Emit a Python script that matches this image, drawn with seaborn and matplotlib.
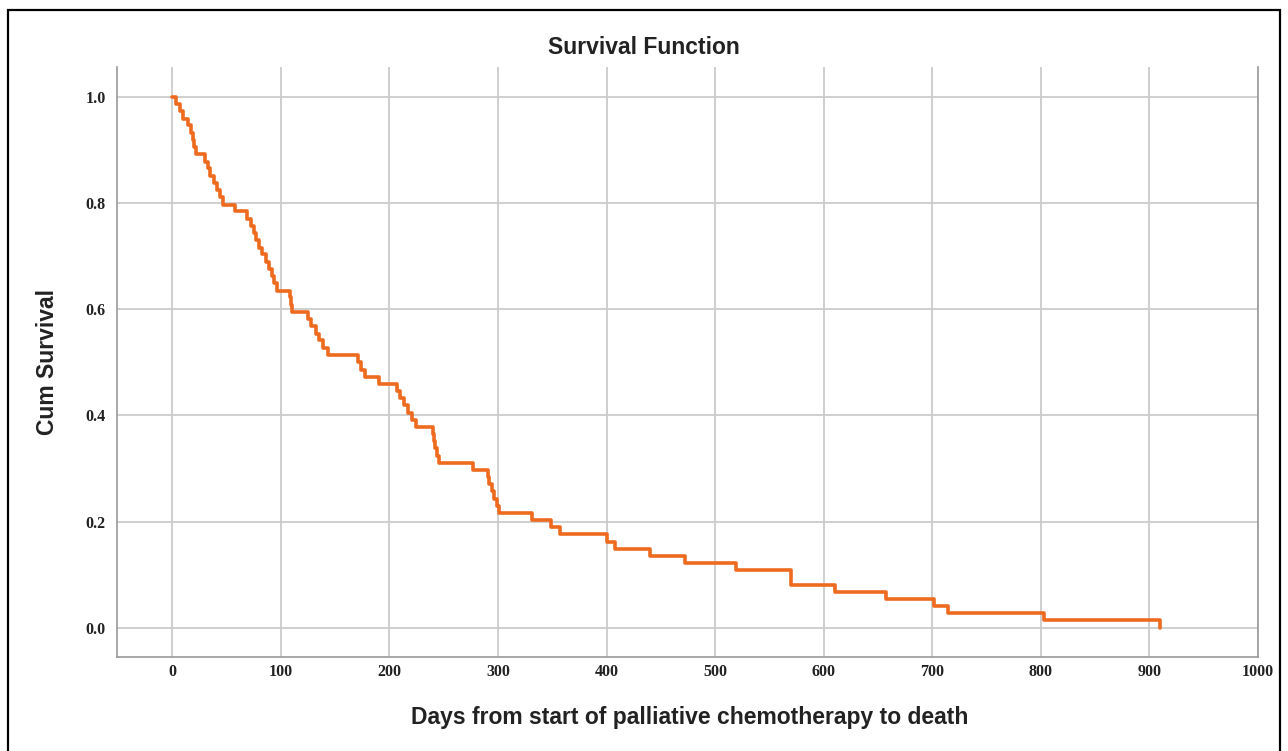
import matplotlib
matplotlib.use("Agg")
import matplotlib.pyplot as plt
from matplotlib.patches import Rectangle
import seaborn as sns
import pandas as pd

# Step times (days) and cumulative survival after each step
days = [0, 3, 7, 10, 14, 17, 19, 20, 22, 30, 33, 35, 38, 41, 44, 47, 58, 69,
        72, 75, 77, 80, 83, 86, 89, 92, 94, 96, 108, 109, 110, 125, 128, 132,
        135, 139, 143, 171, 174, 177, 190, 207, 210, 213, 217, 221, 224, 240,
        241, 242, 244, 246, 277, 291, 292, 294, 296, 299, 301, 331, 349, 357,
        400, 408, 440, 472, 519, 570, 610, 657, 702, 714, 803, 910]
cum_survival = [1.000, 0.986, 0.973, 0.959, 0.946, 0.932, 0.919, 0.905, 0.892,
                0.878, 0.865, 0.851, 0.838, 0.824, 0.811, 0.797, 0.784, 0.770,
                0.757, 0.743, 0.730, 0.716, 0.703, 0.689, 0.676, 0.662, 0.649,
                0.635, 0.622, 0.608, 0.595, 0.581, 0.568, 0.554, 0.541, 0.527,
                0.514, 0.500, 0.486, 0.473, 0.459, 0.446, 0.432, 0.419, 0.405,
                0.392, 0.378, 0.365, 0.351, 0.338, 0.324, 0.311, 0.297, 0.284,
                0.270, 0.257, 0.243, 0.230, 0.216, 0.203, 0.189, 0.176, 0.162,
                0.149, 0.135, 0.122, 0.108, 0.081, 0.068, 0.054, 0.041, 0.027,
                0.014, 0.000]
x_ticks = [0, 100, 200, 300, 400, 500, 600, 700, 800, 900, 1000]
y_ticks = [0.0, 0.2, 0.4, 0.6, 0.8, 1.0]

title = "Survival Function"
x_label = "Days from start of palliative chemotherapy to death"
y_label = "Cum Survival"

sns.set_theme(style="white")
plt.rcParams["font.family"] = ["Liberation Sans", "DejaVu Sans"]

W, H = 1288, 751
fig = plt.figure(figsize=(W / 100, H / 100), dpi=100)
ax = fig.add_axes([117 / W, 1 - 657 / H, (1258 - 117) / W, (657 - 67) / H])

df = pd.DataFrame({"days": days, "surv": cum_survival})
sns.lineplot(data=df, x="days", y="surv", ax=ax, drawstyle="steps-post",
             color="#EE6A1F", linewidth=2.6, estimator=None, sort=True)

ax.set_xlim(-51, 999)
ax.set_ylim(-0.055, 1.056)
ax.set_xticks(x_ticks)
ax.set_yticks(y_ticks)
ax.set_xticklabels([str(v) for v in x_ticks])
ax.set_yticklabels([f"{v:.1f}" for v in y_ticks])
for lab in ax.get_xticklabels() + ax.get_yticklabels():
    lab.set_fontfamily("Liberation Serif")
    lab.set_fontweight("bold")
    lab.set_fontsize(11.5)
    lab.set_color("#222222")
ax.tick_params(axis="both", length=0)
ax.tick_params(axis="y", pad=8)
ax.tick_params(axis="x", pad=5)

ax.grid(True, color="#cbcbcb", linewidth=1.3)
ax.set_axisbelow(True)
for side in ["left", "bottom", "right"]:
    ax.spines[side].set_color("#9a9a9a")
    ax.spines[side].set_linewidth(1.2)
ax.spines["top"].set_visible(False)

ax.set_xlabel(x_label, fontsize=16.5, fontweight="bold", color="#222222")
ax.set_ylabel(y_label, fontsize=16.5, fontweight="bold", color="#222222")
ax.xaxis.set_label_coords(0.502, -0.103)
ax.yaxis.set_label_coords(-0.061, 0.5)
ax.xaxis.label.set_va("center")
ax.yaxis.label.set_va("center")

fig.text(0.5, 1 - 47 / H, title, ha="center", va="center",
         fontsize=16.5, fontweight="bold", color="#222222")

fig.add_artist(Rectangle((8 / W, -0.02), (1280 - 8) / W, 1.02 - 10 / H,
                         transform=fig.transFigure, fill=False,
                         edgecolor="black", linewidth=1.6))

fig.savefig("out.png", dpi=100)
